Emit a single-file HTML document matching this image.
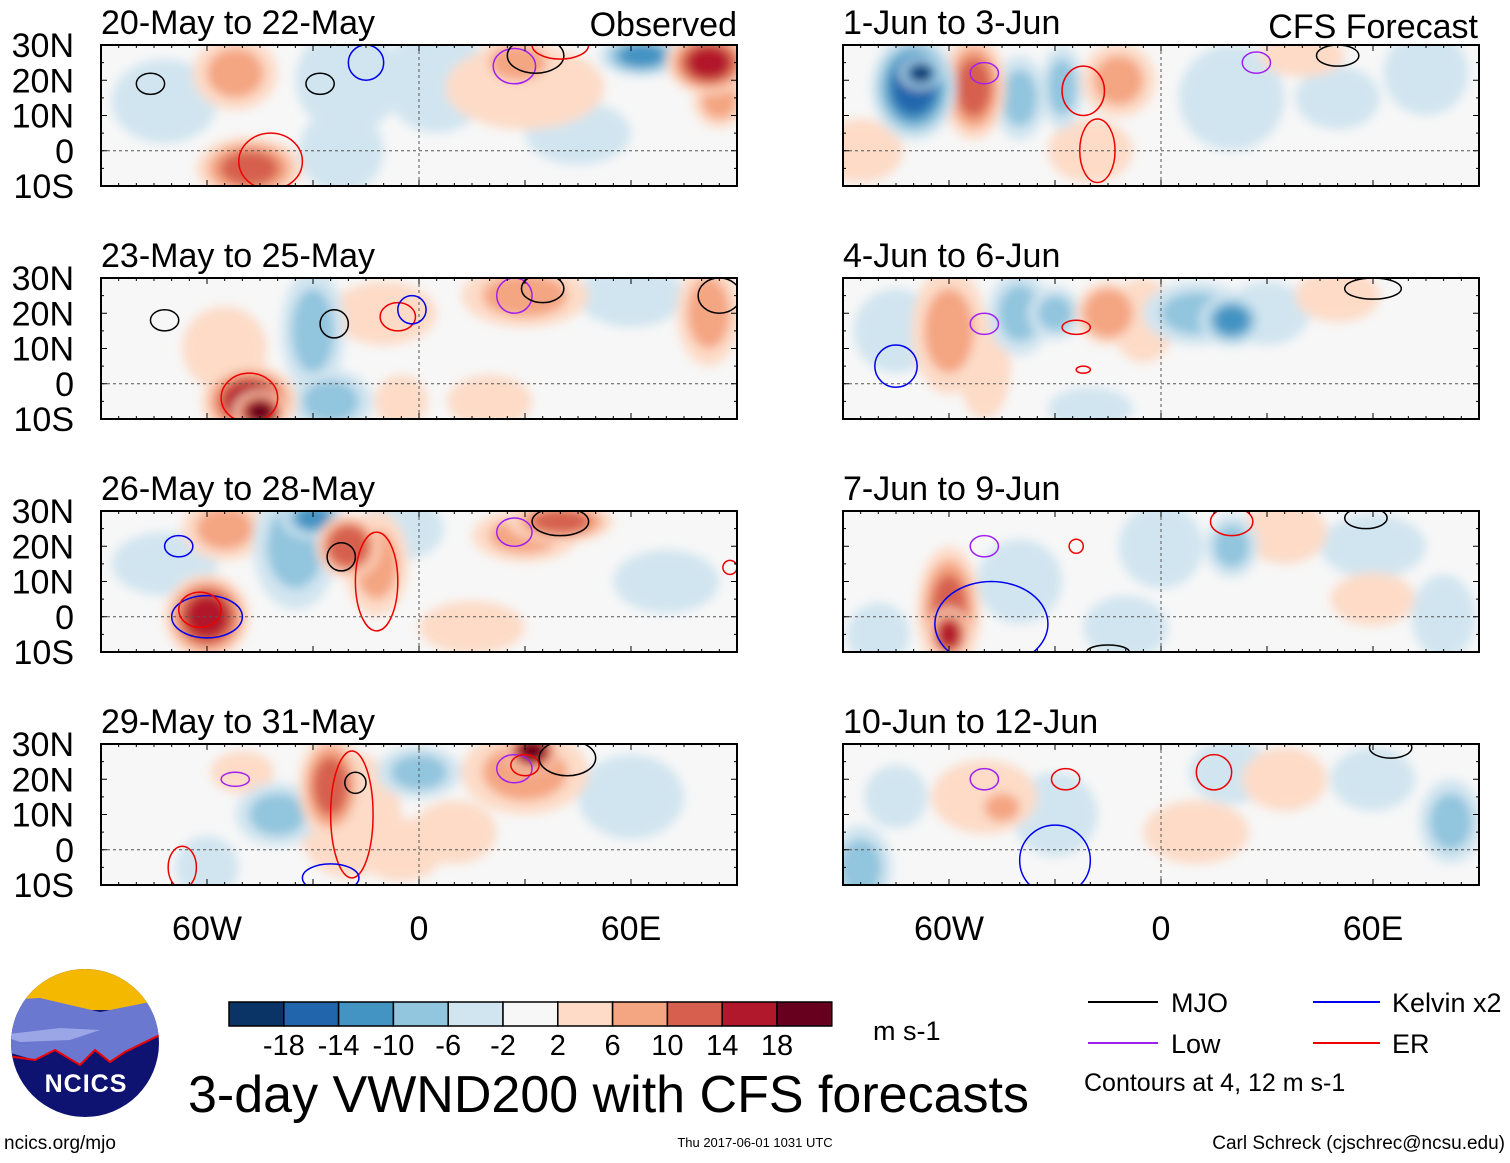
<!DOCTYPE html>
<html><head><meta charset="utf-8">
<style>
body{margin:0;background:#fff;width:1510px;height:1158px;overflow:hidden;font-family:"Liberation Sans",sans-serif}
svg text{font-family:"Liberation Sans",sans-serif}
</style></head>
<body>
<svg id="fig" width="1510" height="1158" viewBox="0 0 1510 1158">
<defs>
<filter id="blur" x="-20%" y="-20%" width="140%" height="140%"><feGaussianBlur stdDeviation="5"/></filter>
</defs>
<g id="panels"></g>
<g id="legendArea"></g>
</svg>
<script>
// ---- data ----
const lonTicks=[-60,0,60];
const lonTickLabels=["60W","0","60E"];
const latTicks=[30,20,10,0,-10];
const latTickLabels=["30N","20N","10N","0","10S"];
const levels=[-18,-14,-10,-6,-2,2,6,10,14,18];
const binColors=["#0b3466","#2166ac","#4393c3","#92c5de","#d1e5f0","#f7f7f7","#fddbc7","#f4a582","#d6604d","#b2182b","#67001f"];
const panelTitles=["20-May to 22-May","23-May to 25-May","26-May to 28-May","29-May to 31-May","1-Jun to 3-Jun","4-Jun to 6-Jun","7-Jun to 9-Jun","10-Jun to 12-Jun"];
// blobs: [lon, lat, rxDeg, ryDeg, value]
const blobs0=[[-52,22,8,7,8],[-48,-5,10,6,11],[-72,14,10,8,-4],[-20,20,10,10,-3],[-22,0,8,8,-3],[30,18,15,8,6],[28,25,8,5,9],[63,27,8,4,-10],[82,25,8,6,15],[85,14,5,5,9],[5,20,10,10,-3],[45,5,10,6,-3]];
const blobs1=[[-48,-5,9,7,16],[-45,-8,5,4,20],[-30,15,6,12,-6],[-25,-5,8,6,-8],[-55,10,8,8,4],[-10,20,10,6,5],[30,25,12,6,7],[60,25,10,6,-5],[82,20,6,10,7],[-5,-5,5,5,5],[20,-5,8,5,4]];
const blobs2=[[-60,0,8,8,17],[-55,25,8,6,8],[-35,20,8,12,-8],[-30,28,6,4,-12],[-20,20,6,6,14],[-12,15,6,10,7],[-72,15,10,6,-5],[40,27,10,4,13],[30,23,10,5,7],[70,10,10,6,-4],[-5,25,8,6,-4],[15,-3,10,5,3]];
const blobs3=[[-25,18,6,10,12],[-20,10,10,12,6],[-5,0,8,6,5],[30,22,12,8,8],[32,28,5,4,19],[0,22,8,5,-9],[-40,10,8,6,-6],[-50,22,6,4,5],[-60,-5,6,6,-5],[60,15,10,8,-4],[10,5,8,6,3]];
const blobs4=[[-70,18,8,10,-14],[-68,22,4,3,-20],[-53,18,6,10,13],[-40,15,5,8,-6],[-28,18,4,8,-8],[-12,20,7,7,9],[-20,0,8,6,4],[20,15,10,10,-4],[50,15,8,6,-3],[75,22,8,8,-3],[40,27,8,4,4],[-85,0,8,6,5]];
const blobs5=[[-60,15,7,12,9],[-50,5,5,10,6],[-40,20,6,8,-6],[-30,20,5,5,-9],[-15,20,6,6,10],[-5,18,6,8,6],[10,20,10,6,-6],[20,18,6,5,-10],[30,20,8,6,-5],[50,25,8,5,5],[-75,15,8,8,-4],[-20,-7,8,4,-4]];
const blobs6=[[-60,2,6,12,12],[-60,-5,4,5,15],[-80,-5,6,6,-5],[-40,10,8,8,-3],[0,20,8,8,-4],[20,20,5,6,-8],[35,24,8,6,5],[60,20,10,6,-3],[80,0,6,8,-5],[-10,-3,8,6,-3],[60,5,8,5,4]];
const blobs7=[[-50,15,10,7,6],[-45,12,5,4,8],[-30,10,8,8,-3],[-85,-5,6,8,-8],[-75,15,6,6,-4],[20,22,8,6,-3],[35,20,8,6,5],[60,20,8,6,-4],[82,8,6,8,-7],[10,5,10,6,3]];
// contours: [lon, lat, rxDeg, ryDeg, type] type 0 MJO 1 Kelvin 2 Low 3 ER
const cont0=[[-76,19,4,3,0],[-28,19,4,3,0],[-15,25,5,5,1],[-42,-3,9,8,3],[27,24,6,5,2],[33,27,8,5,0],[40,30,8,4,3]];
const cont1=[[-72,18,4,3,0],[-24,17,4,4,0],[-6,19,5,4,3],[-2,21,4,4,1],[27,25,5,5,2],[35,27,6,4,0],[-48,-4,8,7,3],[85,25,6,5,0]];
const cont2=[[-68,20,4,3,1],[-22,17,4,4,0],[-12,10,6,14,3],[-60,0,10,6,1],[-62,2,6,5,3],[27,24,5,4,2],[40,27,8,4,0],[88,14,2,2,3]];
const cont3=[[-52,20,4,2,2],[-19,10,6,18,3],[-18,19,3,3,0],[-25,-8,8,4,1],[27,23,5,4,2],[30,24,4,3,3],[42,26,8,5,0],[-67,-5,4,6,3]];
const cont4=[[-50,22,4,3,2],[-22,17,6,7,3],[-18,0,5,9,3],[27,25,4,3,2],[50,27,6,3,0]];
const cont5=[[-50,17,4,3,2],[-24,16,4,2,3],[-22,4,2,1,3],[60,27,8,3,0],[-75,5,6,6,1]];
const cont6=[[-50,20,4,3,2],[-24,20,2,2,3],[-48,-2,16,12,1],[20,27,6,4,3],[58,28,6,3,0],[-15,-10,6,2,0]];
const cont7=[[-50,20,4,3,2],[-27,20,4,3,3],[-30,-3,10,10,1],[15,22,5,5,3],[65,29,6,3,0]];
const allBlobs=[blobs0,blobs1,blobs2,blobs3,blobs4,blobs5,blobs6,blobs7];
const allCont=[cont0,cont1,cont2,cont3,cont4,cont5,cont6,cont7];
const contColors=["#000000","#0000ee","#a020f0","#ee0000"];

const NS="http://www.w3.org/2000/svg";
function mk(tag,attrs,parent){const e=document.createElementNS(NS,tag);for(const k in attrs)e.setAttribute(k,attrs[k]);parent.appendChild(e);return e;}
function colorFor(v){let i=0;while(i<levels.length&&v>levels[i])i++;return binColors[i];}
const lefts=[101,843], tops=[45,278,511,744], W=636, H=141;
const panelsG=document.getElementById('panels');
for(let p=0;p<8;p++){
  const col=p<4?0:1,row=p%4;
  const x0=lefts[col],y0=tops[row];
  const xs=lon=>x0+(lon+90)/180*W;
  const ys=lat=>y0+(30-lat)/40*H;
  const g=mk('g',{},panelsG);
  
  
  const cp=mk('clipPath',{id:'cp'+p},g);
  mk('rect',{x:x0,y:y0,width:W,height:H},cp);
  mk('rect',{x:x0,y:y0,width:W,height:H,fill:'#f7f7f7'},g);
  const cg=mk('g',{'clip-path':'url(#cp'+p+')'},g);
  const bg=mk('g',{filter:'url(#blur)'},cg);
  const sorted=allBlobs[p].slice().sort((a,b)=>Math.abs(a[4])-Math.abs(b[4]));
  sorted.forEach(b=>{
    // outer halo at lower intensity, then core
    const steps=Math.max(1,Math.floor((Math.abs(b[4])+2)/4));
    for(let s=0;s<steps;s++){
      const v=Math.sign(b[4])*(4+4*s);
      const f=1.5-s*(1.0/steps);
      const e=mk('ellipse',{cx:xs(b[0]),cy:ys(b[1]),rx:b[2]*f/180*W,ry:b[3]*f/40*H,fill:colorFor(s===steps-1?b[4]:v)},bg);
      
      
    }
  });
  mk('line',{x1:x0,x2:x0+W,y1:ys(0),y2:ys(0),stroke:'#555','stroke-dasharray':'3,3','stroke-width':1},cg);
  mk('line',{x1:xs(0),x2:xs(0),y1:y0,y2:y0+H,stroke:'#555','stroke-dasharray':'3,3','stroke-width':1},cg);
  allCont[p].forEach(c=>{
    const e=mk('ellipse',{cx:xs(c[0]),cy:ys(c[1]),rx:c[2]/180*W,ry:c[3]/40*H,fill:'none',stroke:contColors[c[4]],'stroke-width':1.5},cg);
    
    
  });
  mk('rect',{x:x0,y:y0,width:W,height:H,fill:'none',stroke:'#000','stroke-width':2},g);
  for(let lon=-90;lon<=90;lon+=5){const L=lon%30===0?6:3;mk('line',{x1:xs(lon),x2:xs(lon),y1:y0,y2:y0+L,stroke:'#000'},g);mk('line',{x1:xs(lon),x2:xs(lon),y1:y0+H,y2:y0+H-L,stroke:'#000'},g);}
  for(let lat=-10;lat<=30;lat+=5){const L=lat%10===0?6:3;mk('line',{x1:x0,x2:x0+L,y1:ys(lat),y2:ys(lat),stroke:'#000'},g);mk('line',{x1:x0+W,x2:x0+W-L,y1:ys(lat),y2:ys(lat),stroke:'#000'},g);}
  const t=mk('text',{x:x0,y:y0-11,'font-size':34},g);t.textContent=panelTitles[p];
  
  
  if(col===0){latTicks.forEach((lat,i)=>{const tt=mk('text',{x:x0-27,y:ys(lat)+12,'font-size':34,'text-anchor':'end'},g);tt.textContent=latTickLabels[i];
    
    });}
  if(row===3){lonTicks.forEach((lon,i)=>{const tt=mk('text',{x:xs(lon),y:y0+H+55,'font-size':34,'text-anchor':'middle'},g);tt.textContent=lonTickLabels[i];
    
    });}
}
[[737,36,'Observed'],[1478,38,'CFS Forecast']].forEach(a=>{const t=mk('text',{x:a[0],y:a[1],'font-size':34,'text-anchor':'end'},panelsG);t.textContent=a[2];
  
  });

const lg=document.getElementById('legendArea');
binColors.forEach((c,i)=>{const r=mk('rect',{x:229+i*54.8,y:1002,width:54.8,height:24,fill:c,stroke:'#000','stroke-width':1.5},lg);
  
  });
levels.forEach((v,i)=>{const t=mk('text',{x:229+(i+1)*54.8,y:1055,'font-size':29,'text-anchor':'middle'},lg);t.textContent=v;
  
  });
</script>
<svg style="position:absolute;left:0;top:0" width="1510" height="1158">
<text x="873" y="1040" font-size="27">m s-1</text>
<text x="188" y="1112" font-size="52">3-day VWND200 with CFS forecasts</text>
<text x="4" y="1149" font-size="19">ncics.org/mjo</text>
<text x="755" y="1147" font-size="13" text-anchor="middle">Thu 2017-06-01 1031 UTC</text>
<text x="1505" y="1149" font-size="19" text-anchor="end">Carl Schreck (cjschrec@ncsu.edu)</text>
<g font-size="27">
<line x1="1088" x2="1158" y1="1002" y2="1002" stroke="#000" stroke-width="2"/><text x="1171" y="1012">MJO</text>
<line x1="1313" x2="1380" y1="1002" y2="1002" stroke="#0000ee" stroke-width="2"/><text x="1392" y="1012">Kelvin x2</text>
<line x1="1088" x2="1158" y1="1043" y2="1043" stroke="#a020f0" stroke-width="2"/><text x="1171" y="1053">Low</text>
<line x1="1313" x2="1380" y1="1043" y2="1043" stroke="#ee0000" stroke-width="2"/><text x="1392" y="1053">ER</text>
<text x="1084" y="1091" font-size="25">Contours at 4, 12 m s-1</text>
</g>
<g>
<clipPath id="lc"><circle cx="85" cy="1043" r="74"/></clipPath>
<g clip-path="url(#lc)">
<rect x="0" y="960" width="170" height="170" fill="#0e1270"/>
<rect x="0" y="960" width="170" height="50" fill="#f5b800"/>
<path d="M0 1000 L40 998 L100 1012 L160 1000 L170 1030 L125 1052 L110 1062 L95 1050 L80 1065 L55 1050 L35 1060 L0 1050Z" fill="#6a78d0"/>
<path d="M0 1035 L60 1028 L100 1030 L70 1040 L20 1042Z" fill="#9aa6e6"/>
<path d="M0 1055 L35 1060 L55 1050 L80 1065 L95 1050 L110 1062 L125 1052 L170 1030" fill="none" stroke="#e00" stroke-width="2"/>
</g>
<text x="86" y="1092" font-size="25" font-weight="bold" fill="#fff" text-anchor="middle" letter-spacing="1">NCICS</text>
</g>
</svg>
</body></html>
